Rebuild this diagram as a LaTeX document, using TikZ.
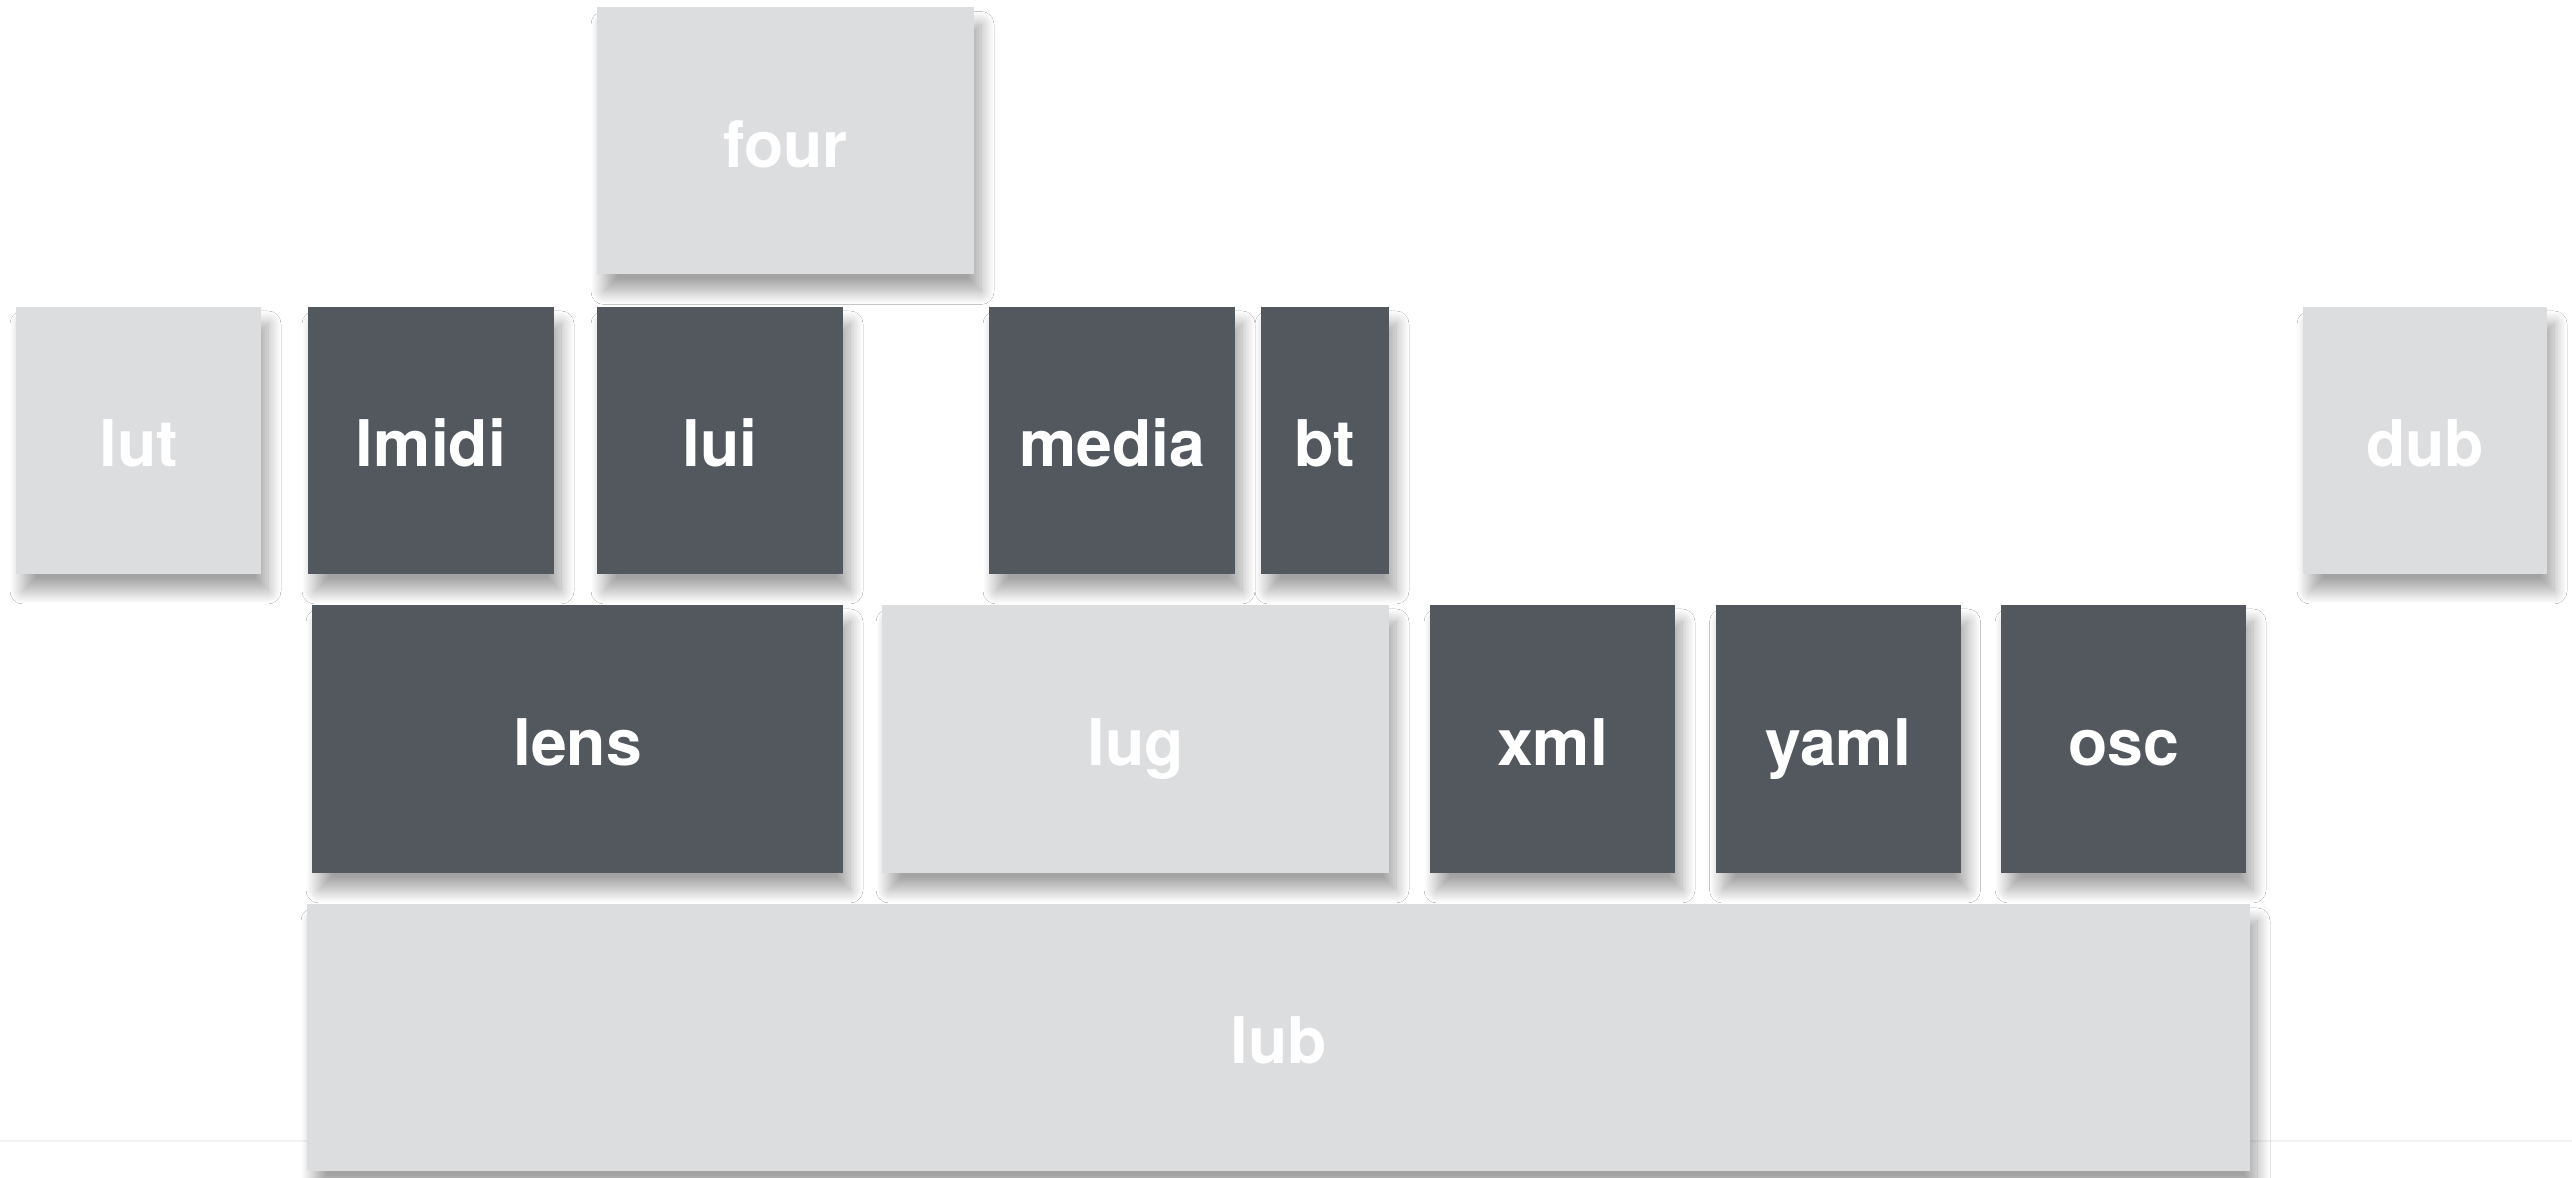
\documentclass[tikz,border=0pt]{standalone}
\usepackage{fontspec}
\setmainfont{TeX Gyre Heros}
\usetikzlibrary{shadows.blur}
\definecolor{modDark}{HTML}{53585F}
\definecolor{modLight}{HTML}{DCDDDF}
\definecolor{baseLine}{HTML}{F3F3F3}
\tikzset{
  modbox/.style={inner sep=0pt, minimum height=2.67cm, text=white,
    text height=15pt, text depth=0pt,
    font=\fontsize{18.3}{20}\selectfont\bfseries,
    blur shadow={shadow xshift=0.7mm, shadow yshift=-1.7mm,
      shadow blur radius=1.3mm, shadow blur steps=20, shadow opacity=36}},
  darkbox/.style={modbox, fill=modDark},
  lightbox/.style={modbox, fill=modLight}
}
\begin{document}
\begin{tikzpicture}
    \useasboundingbox[fill=white] (0,0) rectangle (25.72,11.78);
    \coordinate (baseL) at (0,0.37);
    \coordinate (baseR) at (25.72,0.37);
    \draw[baseLine, line width=0.6pt] (baseL) -- (baseR);
    % top
    \node[lightbox, minimum width=3.77cm] (four) at (7.855,10.37) {four};
    % first row
    \node[lightbox, minimum width=2.45cm] (lut) at (1.385,7.375) {lut};
    \node[darkbox, minimum width=2.46cm] (lmidi) at (4.31,7.375) {lmidi};
    \node[darkbox, minimum width=2.46cm] (lui) at (7.20,7.375) {lui};
    \node[darkbox, minimum width=2.46cm] (media) at (11.12,7.375) {media};
    \node[darkbox, minimum width=1.28cm] (bt) at (13.25,7.375) {bt};
    \node[lightbox, minimum width=2.44cm] (dub) at (24.25,7.375) {dub};
    % second row
    \node[darkbox, minimum width=5.31cm, minimum height=2.68cm] (lens) at (5.775,4.39) {lens};
    \node[lightbox, minimum width=5.07cm, minimum height=2.68cm] (lug) at (11.355,4.39) {lug};
    \node[darkbox, minimum width=2.45cm, minimum height=2.68cm] (xml) at (15.525,4.39) {xml};
    \node[darkbox, minimum width=2.45cm, minimum height=2.68cm] (yaml) at (18.38,4.39) {yaml};
    \node[darkbox, minimum width=2.45cm, minimum height=2.68cm] (osc) at (21.235,4.39) {osc};
    % base
    \node[lightbox, minimum width=19.43cm] (lub) at (12.785,1.405) {lub};
\end{tikzpicture}
\end{document}
